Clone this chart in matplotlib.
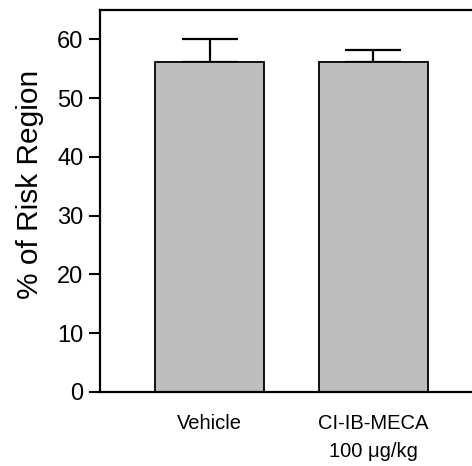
import matplotlib
matplotlib.use("Agg")
import matplotlib.pyplot as plt

plt.rcParams['font.family'] = ['Liberation Sans', 'DejaVu Sans']

# Data
categories = ["Vehicle", "CI-IB-MECA\n100 \u03bcg/kg"]
means = [56.1, 56.1]
sem = [3.9, 2.1]
yticks = [0, 10, 20, 30, 40, 50, 60]

W, H = 472, 466
fig = plt.figure(figsize=(W / 100, H / 100), dpi=100)

left_px, right_px, bottom_px, top_px = 100, 483, 392, 10
ax = fig.add_axes([left_px / W, (H - bottom_px) / H,
                   (right_px - left_px) / W, (bottom_px - top_px) / H])

x = list(range(len(categories)))
ax.bar(x, means, width=0.665, color="#bebebe", edgecolor="black", linewidth=1.3, zorder=2)
ax.errorbar(x, means, yerr=[[0] * len(sem), sem], fmt="none", ecolor="black",
            elinewidth=1.6, capsize=20, capthick=1.6, zorder=1)

ax.set_xlim(-0.668, len(categories) - 1 + 0.668)
ax.set_ylim(0, 65)
ax.set_yticks(yticks)
ax.set_yticklabels([str(v) for v in yticks], fontsize=17)
ax.tick_params(axis="y", direction="out", length=8, width=1.5, pad=4, colors="black")
ax.set_xticks(x)
ax.set_xticklabels(categories, fontsize=14.5, linespacing=1.6, va="top")
ax.tick_params(axis="x", length=0, pad=16)

for side in ("left", "bottom", "top"):
    ax.spines[side].set_linewidth(1.6)
ax.spines["right"].set_visible(False)

fig.text(30 / W, (H - 184) / H, "% of Risk Region", rotation=90,
         ha="center", va="center", fontsize=21.5)

fig.savefig("out.png", dpi=100)
